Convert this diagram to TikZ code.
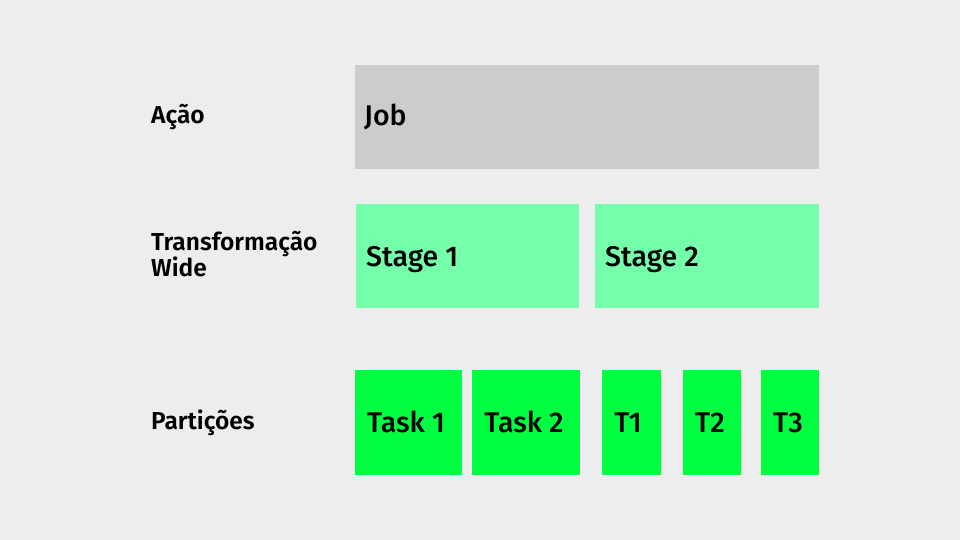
\documentclass[tikz,border=0pt]{standalone}
\usepackage{fontspec}
\setmainfont{Fira Sans}[UprightFont = * Medium, BoldFont = * SemiBold]
\definecolor{bg}{HTML}{EDEDED}
\definecolor{jobc}{HTML}{CCCCCC}
\definecolor{stagec}{HTML}{75FFAB}
\definecolor{taskc}{HTML}{00FF40}
\tikzset{
  box/.style={fill=#1, draw=none, inner sep=0pt},
  boxtext/.style={font=\fontsize{28.5}{34}\selectfont, text=black, inner sep=0pt},
  rowlabel/.style={font=\bfseries\fontsize{24.5}{26}\selectfont, text=black, anchor=base west, align=left, inner sep=0pt}
}
\begin{document}
\begin{tikzpicture}[x=1pt,y=-1pt]
\fill[bg] (0,0) rectangle (960,540);
\useasboundingbox (0,0) rectangle (960,540);
% row labels
\node[rowlabel] (lacao) at (151,124) {Ação};
\node[rowlabel] (ltrans) at (151,250) {Transformação};
\node[rowlabel] (lwide) at (151,276) {Wide};
\node[rowlabel] (lpart) at (151,429.5) {Partições};
% job
\path[box=jobc] (355,65) rectangle (819,169);
\node[boxtext, anchor=base west] (job) at (364,126) {Job};
% stages
\path[box=stagec] (356,204) rectangle (579,308);
\node[boxtext, anchor=base west] (s1) at (366,266) {Stage 1};
\path[box=stagec] (595,204) rectangle (819,308);
\node[boxtext, anchor=base west] (s2) at (605,266) {Stage 2};
% tasks
\path[box=taskc] (355,370) rectangle (462,475);
\node[boxtext, anchor=base] (t1) at (406,432.7) {Task 1};
\path[box=taskc] (472,370) rectangle (580,475);
\node[boxtext, anchor=base] (t2) at (524,432.7) {Task 2};
\path[box=taskc] (602,370) rectangle (661,475);
\node[boxtext, anchor=base] (t3) at (628,432.7) {T1};
\path[box=taskc] (683,370) rectangle (741,475);
\node[boxtext, anchor=base] (t4) at (710,432.7) {T2};
\path[box=taskc] (761,370) rectangle (819,475);
\node[boxtext, anchor=base] (t5) at (788,432.7) {T3};
\end{tikzpicture}
\end{document}
